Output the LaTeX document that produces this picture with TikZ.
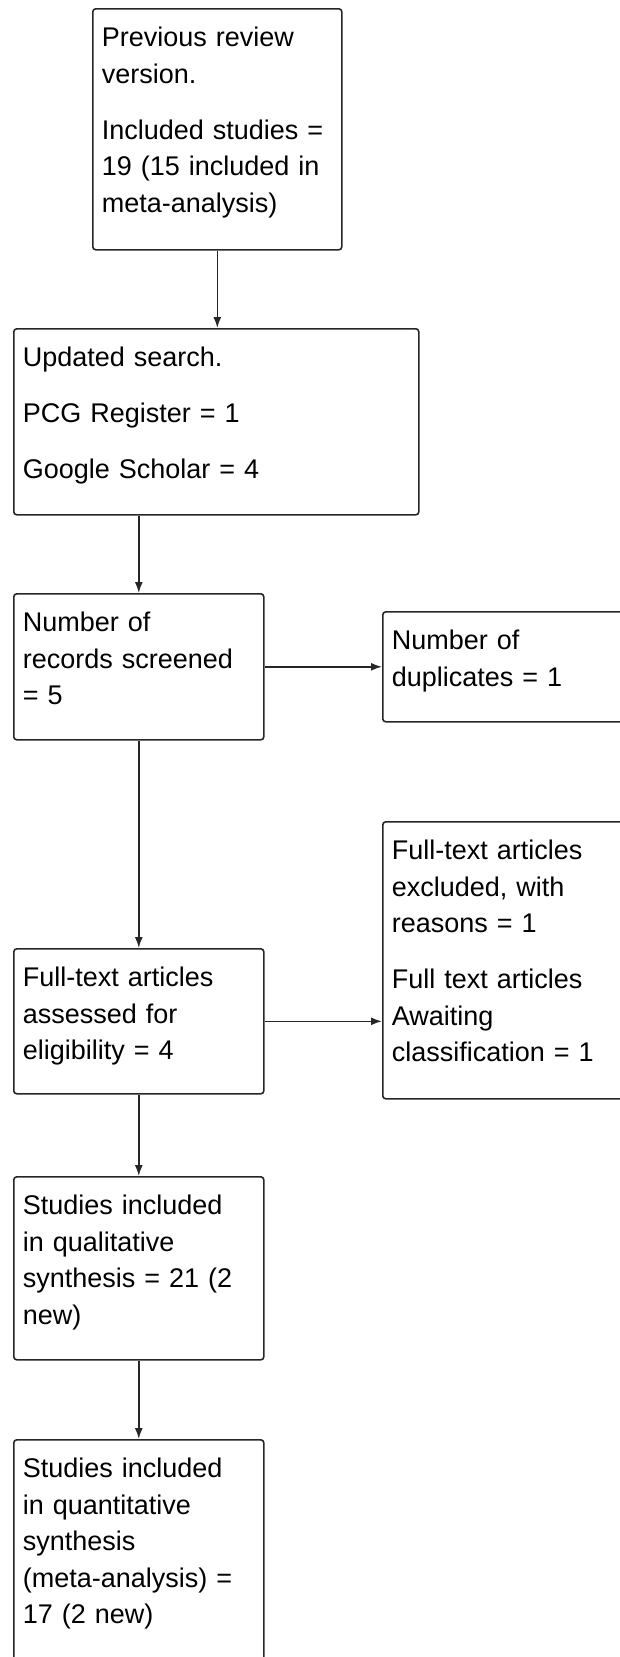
\documentclass[tikz,border=0pt]{standalone}
\usepackage{fontspec}
\setmainfont{Liberation Sans}
\usetikzlibrary{arrows.meta}

\begin{document}
\begin{tikzpicture}[x=1pt, y=-1pt,
	stage/.style={
		draw=black!85,
		line width=1.6pt,
		rounded corners=3pt,
		anchor=north west,
		align=left,
		inner xsep=9pt,
		inner ysep=0pt,
		text height=38pt,
		font=\fontsize{27}{36.5}\selectfont
	},
	flowline/.style={black!85, line width=1.6pt, -{Latex[length=11pt,width=8pt]}},
]

\pgfmathsetmacro{\colL}{13}
\pgfmathsetmacro{\colR}{382}
\pgfmathsetmacro{\pgap}{19.5}

\useasboundingbox (0,0) rectangle (620,1657);

% main column
\node[stage, text width=231pt, text depth=203pt] (prev) at (92,8)
	{Previous review\\version.\\[\pgap pt]Included studies =\\19 (15 included in\\meta-analysis)};
\node[stage, text width=387pt, text depth=148pt] (search) at (\colL,328)
	{Updated search.\\[\pgap pt]PCG Register = 1\\[\pgap pt]Google Scholar = 4};
\node[stage, text width=232pt, text depth=108pt] (screened) at (\colL,593)
	{Number of\\records screened\\= 5};
\node[stage, text width=232pt, text depth=107pt] (assessed) at (\colL,948)
	{Full-text articles\\assessed for\\eligibility = 4};
\node[stage, text width=232pt, text depth=145pt] (qual) at (\colL,1176)
	{Studies included\\in qualitative\\synthesis = 21 (2\\new)};
\node[stage, text width=232pt, text depth=240pt] (quant) at (\colL,1439)
	{Studies included\\in quantitative\\synthesis\\(meta-analysis) =\\17 (2 new)};

% side boxes (run past the right edge)
\node[stage, text width=240pt, text depth=72pt] (dups) at (\colR,611)
	{Number of\\duplicates = 1};
\node[stage, text width=240pt, text depth=239pt] (excluded) at (\colR,821)
	{Full-text articles\\excluded, with\\reasons = 1\\[\pgap pt]Full text articles\\Awaiting\\classification = 1};

% connectors
\draw[flowline] (prev.south) -- (prev.south |- search.north);
\draw[flowline] (search.south -| screened.north) -- (screened.north);
\draw[flowline] (screened.east) -- (dups.west);
\draw[flowline] (screened.south) -- (assessed.north);
\draw[flowline] (assessed.east) -- (assessed.east -| excluded.west);
\draw[flowline] (assessed.south) -- (qual.north);
\draw[flowline] (qual.south) -- (quant.north);

\end{tikzpicture}
\end{document}
